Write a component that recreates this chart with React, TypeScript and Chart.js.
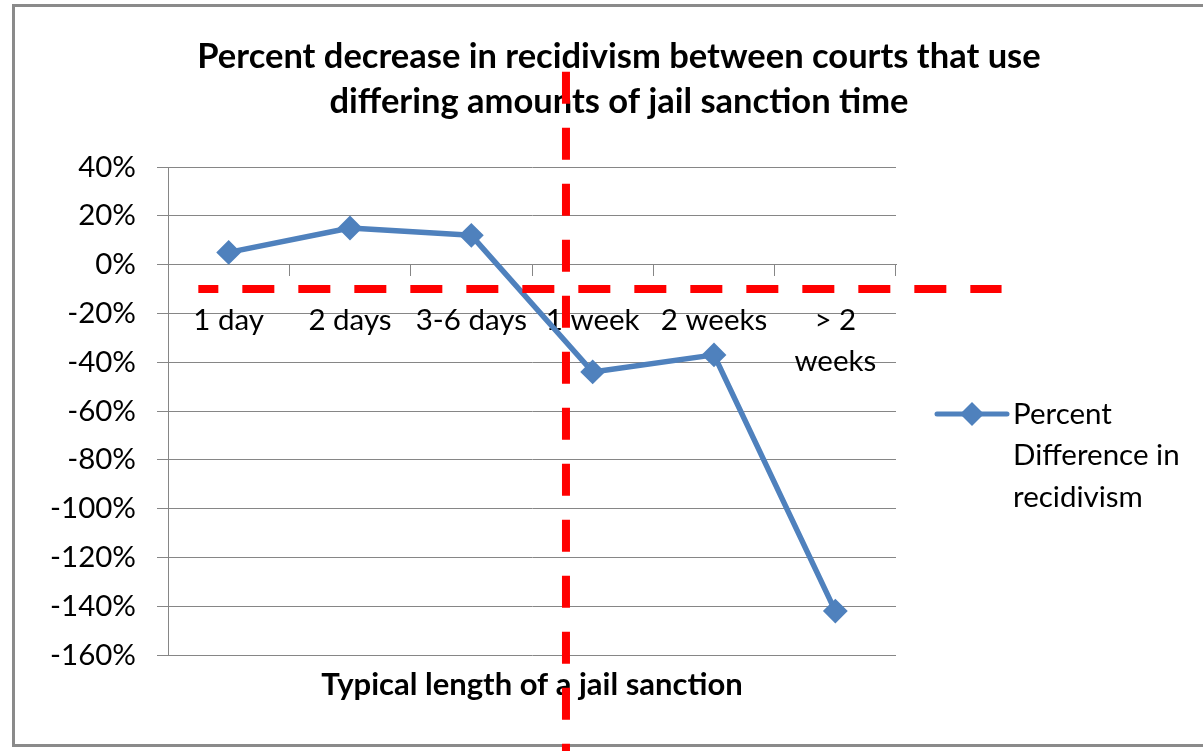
import React, { useEffect, useRef } from 'react';
import { Chart, registerables } from 'chart.js';

Chart.register(...registerables);

// ---------- data ----------
const categories: (string | string[])[] = ['1 day', '2 days', '3-6 days', '1 week', '2 weeks', ['> 2', 'weeks']];
const seriesLabel = ['Percent', 'Difference in', 'recidivism'];
const percentDifference = [5, 15, 12, -44, -37, -142];
const yMin = -160;
const yMax = 40;
const yStep = 20;
const titleLines = ['Percent decrease in recidivism between courts that use', 'differing amounts of jail sanction time'];
const xAxisTitle = 'Typical length of a jail sanction';
// red dashed reference lines, in data units (y in %, x in category index)
const refHorizontalY = -10;
const refHorizontalXRange = [-0.25, 6.37];
const refVerticalX = 2.78;
const refVerticalYRange = [79, -230];

const BLUE = '#4F81BD';
const GRID = '#868686';
const FONT = 'Lato';

const refLinesPlugin = {
  id: 'refLines',
  afterDraw(chart: any) {
    const { ctx } = chart;
    const x = chart.scales.x;
    const y = chart.scales.y;
    ctx.save();
    ctx.strokeStyle = '#FF0000';
    ctx.lineWidth = 8;
    ctx.setLineDash([32, 24]);
    ctx.lineCap = 'butt';
    // horizontal
    const hy = y.getPixelForValue(refHorizontalY);
    ctx.lineDashOffset = 12;
    ctx.beginPath();
    ctx.moveTo(x.getPixelForValue(refHorizontalXRange[0]), hy);
    ctx.lineTo(x.getPixelForValue(refHorizontalXRange[1]), hy);
    ctx.stroke();
    // vertical
    const vx = x.getPixelForValue(refVerticalX);
    ctx.lineDashOffset = 0;
    ctx.beginPath();
    ctx.moveTo(vx, y.getPixelForValue(refVerticalYRange[0]));
    ctx.lineTo(vx, y.getPixelForValue(refVerticalYRange[1]));
    ctx.stroke();
    ctx.restore();
  },
};

const legendPlugin = {
  id: 'sideLegend',
  afterDatasetsDraw(chart: any) {
    const { ctx, chartArea } = chart;
    const x0 = chartArea.right + 41;
    const x1 = chartArea.right + 111;
    const yLine = chartArea.top + 247;
    ctx.save();
    ctx.strokeStyle = BLUE;
    ctx.lineWidth = 5;
    ctx.lineCap = 'round';
    ctx.beginPath();
    ctx.moveTo(x0, yLine);
    ctx.lineTo(x1, yLine);
    ctx.stroke();
    const cx = (x0 + x1) / 2;
    const r = 12;
    ctx.fillStyle = BLUE;
    ctx.beginPath();
    ctx.moveTo(cx, yLine - r);
    ctx.lineTo(cx + r, yLine);
    ctx.lineTo(cx, yLine + r);
    ctx.lineTo(cx - r, yLine);
    ctx.closePath();
    ctx.fill();
    ctx.fillStyle = '#000';
    ctx.font = `29.5px ${FONT}`;
    ctx.textAlign = 'left';
    ctx.textBaseline = 'middle';
    seriesLabel.forEach((line, i) => {
      ctx.fillText(line, x1 + 6, yLine + i * 41.5);
    });
    ctx.restore();
  },
};

export default function App() {
  const canvasRef = useRef<HTMLCanvasElement | null>(null);

  useEffect(() => {
    if (!canvasRef.current) return;
    Chart.defaults.font.family = FONT;
    const chart = new Chart(canvasRef.current, {
      type: 'line',
      data: {
        labels: categories as any,
        datasets: [
          {
            label: seriesLabel.join(' '),
            data: percentDifference,
            xAxisID: 'x',
            yAxisID: 'y',
            borderColor: BLUE,
            backgroundColor: BLUE,
            borderWidth: 5.5,
            borderJoinStyle: 'round',
            borderCapStyle: 'round',
            tension: 0,
            pointStyle: 'rectRot',
            pointRadius: 11,
            pointBorderWidth: 2,
            pointBackgroundColor: BLUE,
            pointBorderColor: BLUE,
          },
        ],
      },
      options: {
        animation: false,
        responsive: false,
        layout: { padding: { left: 40, right: 5, top: 0, bottom: 0 } },
        plugins: {
          legend: { display: false },
          tooltip: { enabled: false },
          title: {
            display: true,
            text: titleLines,
            color: '#000',
            font: { family: FONT, size: 34.5, weight: 'bold', lineHeight: '45px' },
            padding: { top: 34.5, bottom: 42.5 },
          },
        },
        scales: {
          x: {
            type: 'category',
            position: { y: 0 } as any,
            offset: true,
            grid: {
              display: true,
              drawOnChartArea: false,
              drawTicks: true,
              tickLength: 11,
              offset: true,
              color: GRID,
              lineWidth: 1,
            },
            border: { display: true, color: GRID, width: 1 },
            ticks: {
              autoSkip: false,
              maxRotation: 0,
              minRotation: 0,
              padding: 24,
              color: '#000',
              font: { family: FONT, size: 29.5, lineHeight: 1.4 },
            },
          },
          xTitle: {
            type: 'category',
            position: 'bottom',
            offset: true,
            grid: { display: false },
            border: { display: false },
            ticks: { display: false },
            title: {
              display: true,
              text: xAxisTitle,
              color: '#000',
              font: { family: FONT, size: 31, weight: 'bold', lineHeight: 1.2 },
              padding: { top: 0, bottom: 47.5 },
            },
            afterFit: (s: any) => {
              s.height = 96;
            },
          },
          y: {
            type: 'linear',
            position: 'left',
            min: yMin,
            max: yMax,
            ticks: {
              stepSize: yStep,
              padding: 21,
              color: '#000',
              font: { family: FONT, size: 29.5 },
              callback: (v: any) => `${v}%`,
            },
            grid: { color: GRID, lineWidth: 1, drawTicks: true, tickLength: 11 },
            border: { display: true, color: GRID, width: 1 },
            afterFit: (s: any) => {
              s.width = 128;
            },
          },
          ySpacer: {
            type: 'linear',
            position: 'right',
            grid: { display: false },
            border: { display: false },
            ticks: { display: false },
            afterFit: (s: any) => {
              s.width = 302;
            },
          },
        },
      },
      plugins: [legendPlugin, refLinesPlugin],
    } as any);
    return () => chart.destroy();
  }, []);

  return (
    <div style={{ position: 'absolute', left: 0, top: 0, width: 1203, height: 751, overflow: 'hidden', background: '#fff' }}>
      <div
        style={{
          position: 'absolute',
          left: 12,
          top: 4,
          width: 1220,
          height: 743,
          border: '3px solid #8a8a8a',
          boxSizing: 'border-box',
        }}
      />
      <canvas ref={canvasRef} width={1203} height={751} style={{ position: 'absolute', left: 0, top: 0 }} />
    </div>
  );
}
